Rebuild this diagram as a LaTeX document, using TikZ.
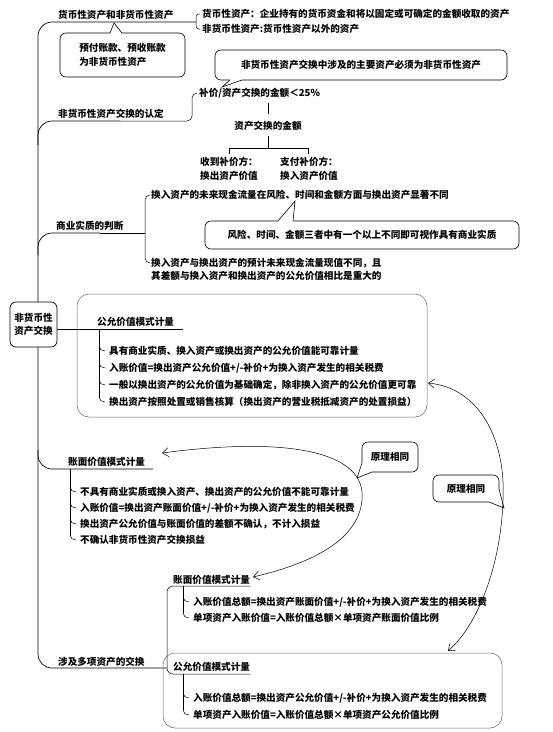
\documentclass[tikz,border=0pt]{standalone}
\usepackage{fontspec}
\setmainfont{Noto Sans CJK SC}
\usetikzlibrary{arrows.meta}

\tikzset{
  every node/.style={font=\fontsize{9.6}{13.5}\selectfont\bfseries, inner sep=0pt},
  txt/.style={anchor=west},
  branch/.style={line width=0.7pt, rounded corners=14pt},
  brace/.style={line width=0.5pt, rounded corners=5pt},
  tick/.style={line width=0.5pt},
  talk/.style={draw, line width=0.6pt, rounded corners=6pt, fill=white},
  pointer/.style={line width=0.6pt},
  region/.style={draw=black!60, line width=0.5pt, rounded corners=12pt},
  link/.style={line width=0.5pt},
}

\begin{document}
\begin{tikzpicture}[x=1pt,y=-1pt,>={Straight Barb[length=6pt,width=9pt]}]
\useasboundingbox (0,0) rectangle (553,732);

% trunk
\draw[branch] (196,22) -- (38,22) -- (38,668) -- (167,668);

% assets
\node[txt] (monT) at (58,15) {货币性资产和非货币性资产};
\draw[brace, rounded corners=3pt] (200,14) -- (196,14) -- (196,29) -- (200,29);
\node[txt] (monA) at (202,14) {货币性资产：企业持有的货币资金和将以固定或可确定的金额收取的资产};
\node[txt] (monB) at (202,29) {非货币性资产:货币性资产以外的资产};

\node[talk, minimum width=125pt, minimum height=44pt, align=left] (prepaid) at (122.5,55) {预付账款、预收账款\\为非货币性资产};
\fill[white] (110,31.5) rectangle (122,34.5);
\draw[pointer] (110,33) -- (114,23) -- (122,33);

% recognition
\draw[branch] (38,145) -- (38,121) -- (120,121);
\draw[brace] (120,121) -- (192,121) -- (192,93) -- (197,93);
\node[txt] (rec) at (58,114) {非货币性资产交换的认定};
\node[txt] (ratio) at (199,93) {补价/资产交换的金额＜25\%};

\node[talk, minimum width=292pt, minimum height=30pt] (must) at (361,65) {非货币性资产交换中涉及的主要资产必须为非货币性资产};
\fill[white] (230,78.5) rectangle (242,81.5);
\draw[pointer] (230,80) -- (222,87) -- (242,80);

\node (amt) at (268,126) {资产交换的金额};
\draw[tick] (268,103) -- (268,114);
\draw[tick] (268,136) -- (268,148);
\draw[tick] (229,154) -- (229,148) -- (308,148) -- (308,154);
\node[txt, align=left] (recv) at (200,169) {收到补价方：\\换出资产价值};
\node[txt, align=left] (pay) at (280,169) {支付补价方：\\换入资产价值};

% substance
\draw[branch] (38,255) -- (38,233) -- (100,233);
\draw[brace] (100,233) -- (145,233);
\draw[brace] (150,195) -- (145,195) -- (145,263) -- (150,263);
\node[txt] (subT) at (56,226) {商业实质的判断};
\node[txt] (subA) at (151,195) {换入资产的未来现金流量在风险、时间和金额方面与换出资产显著不同};
\node[txt, align=left] (subB) at (151,269.5) {换入资产与换出资产的预计未来现金流量现值不同，且\\其差额与换入资产和换出资产的公允价值相比是重大的};

\node[talk, minimum width=314pt, minimum height=28pt] (risk) at (362,235) {风险、时间、金额三者中有一个以上不同即可视作具有商业实质};
\fill[white] (278,219.5) rectangle (293,222.5);
\draw[pointer] (278,221) -- (295,201) -- (293,221);

% fair value
\draw[region] (77,294) rectangle (427,417);
\draw[branch] (57,329) -- (183,329);
\node[draw, line width=0.7pt, rounded corners=6pt, minimum width=47pt, minimum height=45pt, align=center, fill=white] (root) at (33.5,324.5) {非货币性\\资产交换};
\node[txt] (fvT) at (97,322) {公允价值模式计量};
\draw[brace] (99,329) -- (99,398);
\foreach \y in {351,368,385,402} \draw[brace] (99,\y-5) to[out=-90,in=180] (105,\y);
\node[txt] (fvA) at (109,351) {具有商业实质、换入资产或换出资产的公允价值能可靠计量};
\node[txt] (fvB) at (109,368) {入账价值=换出资产公允价值+/-补价+为换入资产发生的相关税费};
\node[txt] (fvC) at (109,385) {一般以换出资产的公允价值为基础确定，除非换入资产的公允价值更可靠};
\node[txt] (fvD) at (109,402) {换出资产按照处置或销售核算（换出资产的营业税抵减资产的处置损益）};

% book value
\draw[branch] (38,450) -- (38,469) -- (153,469);
\node[txt] (bvT) at (68,462) {账面价值模式计量};
\draw[brace] (70,469) -- (70,536);
\foreach \y in {492,508,524,540} \draw[brace] (70,\y-5) to[out=-90,in=180] (76,\y);
\node[txt] (bvA) at (80,492) {不具有商业实质或换入资产、换出资产的公允价值不能可靠计量};
\node[txt] (bvB) at (80,508) {入账价值=换出资产账面价值+/-补价+为换入资产发生的相关税费};
\node[txt] (bvC) at (80,524) {换出资产公允价值与账面价值的差额不确认，不计入损益};
\node[txt] (bvD) at (80,540) {不确认非货币性资产交换损益};

% several assets
\draw[region] (163,653) rectangle (502,728);
\node[txt] (multi) at (58,662) {涉及多项资产的交换};
\draw[brace, rounded corners=6pt] (250,586) -- (167,586) -- (167,674) -- (250,674);
\node[txt] (mbvT) at (173,580) {账面价值模式计量};
\node[txt] (mfvT) at (173,667) {公允价值模式计量};
\draw[brace] (183,586) -- (183,613);
\foreach \y in {602,618} \draw[brace] (183,\y-5) to[out=-90,in=180] (189,\y);
\node[txt] (mbvA) at (193,602) {入账价值总额=换出资产账面价值+/-补价+为换入资产发生的相关税费};
\node[txt] (mbvB) at (193,618) {单项资产入账价值=入账价值总额×单项资产账面价值比例};
\draw[brace] (183,674) -- (183,710);
\foreach \y in {698,715} \draw[brace] (183,\y-5) to[out=-90,in=180] (189,\y);
\node[txt] (mfvA) at (193,698) {入账价值总额=换出资产公允价值+/-补价+为换入资产发生的相关税费};
\node[txt] (mfvB) at (193,715) {单项资产入账价值=入账价值总额×单项资产公允价值比例};

% same principle
\node[talk, minimum width=56pt, minimum height=30pt] (same1) at (390,457) {原理相同};
\fill[white] (361,463) rectangle (372,473);
\draw[pointer] (362,463) -- (357,478) -- (372,472);
\node[talk, minimum width=66pt, minimum height=27pt] (same2) at (466,488.5) {原理相同};
\fill[white] (489,489) rectangle (500,503);
\draw[pointer] (499,489) -- (504,508) -- (489,502);

\draw[link, <->] (162,453) .. controls (290,436) and (367,452) .. (362,500) .. controls (358,545) and (300,566) .. (253,577);
\draw[link, <->] (428,383) .. controls (480,388) and (506,440) .. (503,500) .. controls (501,565) and (478,625) .. (448,651);
\end{tikzpicture}
\end{document}
